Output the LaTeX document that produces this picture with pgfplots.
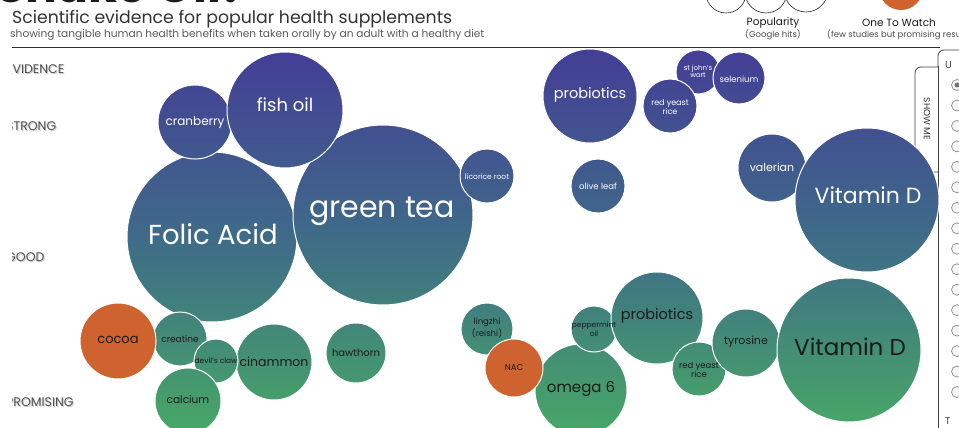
\documentclass[border=0pt]{standalone}
\usepackage{pgfplots}
\pgfplotsset{compat=1.18}
\usepackage{pgfplotstable}
\usepackage{fontspec}
\setmainfont{Poppins}
\definecolor{cTop}{RGB}{68,62,150}
\definecolor{cMid}{RGB}{62,110,135}
\definecolor{cBot}{RGB}{72,168,102}
\definecolor{cOrange}{RGB}{207,99,48}
\definecolor{ink}{RGB}{26,26,26}
\pgfdeclareplotmark{nomark}{}
\newcommand\gradcol[2]{%
  \pgfmathsetmacro\gY{#2}%
  \ifdim\gY pt<250pt
    \pgfmathtruncatemacro\gp{max(0,min(100,(\gY-50)/2))}%
    \colorlet{#1}{cMid!\gp!cTop}%
  \else
    \pgfmathtruncatemacro\gp{max(0,min(100,(\gY-250)/1.8))}%
    \colorlet{#1}{cBot!\gp!cMid}%
  \fi}
% bubbles: centre x, centre y (pixel row), radius
\pgfplotstableread{
x y r
212 237 85
383 215 90
195 122 37
285 110 58
487 176 27
590 96 47
698 72 22
670 106 27
739 78 26
598 186 27
772 168 34
867 200 72
180 339 27
274 362 38
216 361 22
188 401 33
356 353 30
487 329 26
581 390 46
594 329 23
657 318 46
699 369 27
746 343 34
849 350 72
}\bubbles
% one to watch (orange)
\pgfplotstableread{
x y r
118 341 38
514 368 29
}\watch
% labels (w = 1 for white text, 0 for dark text)
\pgfplotstableread[col sep=comma]{
lx,ly,fs,w,label
213,234,27.5,1,Folic Acid
382,211,30,1,green tea
195,123,12,1,cranberry
285,105,18,1,fish oil
487,177,7.5,1,licorice root
590,95,14.5,1,probiotics
698,71,7,1,{st john's\\wort}
670,107,8,1,{red yeast\\rice}
739,79,8.5,1,selenium
598,186,8.5,1,olive leaf
772,167,11,1,valerian
868,195,22,1,Vitamin D
118,340,13,0,cocoa
180,339,9,0,creatine
274,362,12.5,0,cinammon
216,361,7.5,0,devil's claw
188,400,10.5,0,calcium
356,353,10,0,hawthorn
487,328,8.5,0,{lingzhi\\(reishi)}
581,389,15,0,omega 6
514,368,8.5,0,NAC
594,329,7.5,0,{peppermint\\oil}
657,316,14.5,0,probiotics
699,370,8.5,0,{red yeast\\rice}
746,342,11,0,tyrosine
850,347,23,0,Vitamin D
}\labels
\begin{document}
\begin{tikzpicture}
\begin{axis}[x=1pt, y=1pt, xmin=0, xmax=959, ymin=0, ymax=428,
  y dir=reverse, hide axis, clip=false]
\coordinate (BL) at (axis cs:0,428);
\coordinate (TR) at (axis cs:959,0);
% header
\node[anchor=base west, inner sep=0pt, font=\fontsize{47}{47}\selectfont\bfseries, text=ink] at (axis cs:-4,3) {Snake Oil?};
\node[anchor=west, inner sep=0pt, font=\fontsize{17.3}{17.3}\selectfont, text=black!80] at (axis cs:12,19) {Scientific evidence for popular health supplements};
\node[anchor=west, inner sep=0pt, font=\fontsize{10.6}{10.6}\selectfont, text=black!65] at (axis cs:10,34.5) {showing tangible human health benefits when taken orally by an adult with a healthy diet};
\draw[black!80, line width=1.2pt] (axis cs:12,47.5) -- (axis cs:940,47.5);
% legend
\draw[black!85, line width=0.6pt] (axis cs:726,-7) circle[radius=20pt];
\draw[black!85, line width=0.6pt] (axis cs:766,-8) circle[radius=21pt];
\draw[black!85, line width=0.6pt] (axis cs:806,-10) circle[radius=22pt];
\fill[cOrange] (axis cs:901,-12) circle[radius=22pt];
\node[font=\fontsize{10.5}{10.5}\selectfont, text=ink] at (axis cs:773,23) {Popularity};
\node[font=\fontsize{8.5}{8.5}\selectfont, text=black!70] at (axis cs:773,34.5) {(Google hits)};
\node[font=\fontsize{10.5}{10.5}\selectfont, text=ink] at (axis cs:899,23) {One To Watch};
\node[anchor=west, inner sep=0pt, font=\fontsize{8.5}{8.5}\selectfont, text=black!70] at (axis cs:827,34.5) {(few studies but promising results)};
% evidence labels
\node[anchor=west, inner sep=0pt, font=\fontsize{12.5}{12.5}\selectfont, text=black!22] at (axis cs:7,70.5) {EVIDENCE};
\node[anchor=west, inner sep=0pt, font=\fontsize{12.5}{12.5}\selectfont, text=black!68] at (axis cs:6,69) {EVIDENCE};
\node[anchor=west, inner sep=0pt, font=\fontsize{12.5}{12.5}\selectfont, text=black!22] at (axis cs:7,127.5) {STRONG};
\node[anchor=west, inner sep=0pt, font=\fontsize{12.5}{12.5}\selectfont, text=black!68] at (axis cs:6,126) {STRONG};
\node[anchor=west, inner sep=0pt, font=\fontsize{12.5}{12.5}\selectfont, text=black!22] at (axis cs:7,258.5) {GOOD};
\node[anchor=west, inner sep=0pt, font=\fontsize{12.5}{12.5}\selectfont, text=black!68] at (axis cs:6,257) {GOOD};
\node[anchor=west, inner sep=0pt, font=\fontsize{12.5}{12.5}\selectfont, text=black!22] at (axis cs:7,403.5) {PROMISING};
\node[anchor=west, inner sep=0pt, font=\fontsize{12.5}{12.5}\selectfont, text=black!68] at (axis cs:6,402) {PROMISING};
\fill[white] (axis cs:-2,55) rectangle (axis cs:11.5,430);
% gradient bubbles
\addplot[scatter, only marks, mark=nomark,
  visualization depends on={\thisrow{y} \as \Yc},
  visualization depends on={\thisrow{r} \as \rad},
  scatter/@pre marker code/.code={%
    \pgfmathsetmacro\Yt{\Yc-\rad}%
    \pgfmathsetmacro\Yb{\Yc+\rad}%
    \gradcol{ctop}{\Yt}\gradcol{cmidl}{\Yc}\gradcol{cbot}{\Yb}%
    \path[top color=ctop, bottom color=cbot, middle color=cmidl, draw=white, line width=1pt] (0,0) circle[radius=\rad pt];},
  scatter/@post marker code/.code={}]
  table[x=x, y=y] {\bubbles};
% orange bubbles
\addplot[scatter, only marks, mark=nomark,
  visualization depends on={\thisrow{r} \as \rad},
  scatter/@pre marker code/.code={%
    \path[fill=cOrange, draw=white, line width=1pt] (0,0) circle[radius=\rad pt];},
  scatter/@post marker code/.code={}]
  table[x=x, y=y] {\watch};
% labels
\addplot[scatter, only marks, mark=nomark,
  point meta=explicit symbolic,
  visualization depends on={\thisrow{fs} \as \fsz},
  visualization depends on={\thisrow{w} \as \wt},
  scatter/@pre marker code/.code={%
    \pgfmathtruncatemacro\wp{100*\wt}%
    \node[inner sep=0pt, align=center, text={white!\wp!ink}, font=\fontsize{\fsz}{\fsz}\selectfont] at (0,0) {\pgfplotspointmeta};},
  scatter/@post marker code/.code={}]
  table[x=lx, y=ly, meta=label] {\labels};
% right panel
\fill[white] (axis cs:938,50) rectangle (axis cs:962,430);
\draw[black!75, line width=0.8pt, rounded corners=6pt]
  (axis cs:962,50) -- (axis cs:938,50) -- (axis cs:938,67);
\draw[black!75, line width=0.8pt, fill=white, fill opacity=0.82, rounded corners=6pt]
  (axis cs:938,67) -- (axis cs:915,67) -- (axis cs:915,172) -- (axis cs:938,172);
\draw[black!75, line width=0.8pt] (axis cs:938,66) -- (axis cs:938,430);
\node[rotate=-90, font=\fontsize{9}{9}\selectfont, text=black!80] at (axis cs:927,119) {SHOW ME};
\node[anchor=west, inner sep=0pt, font=\fontsize{10}{10}\selectfont, text=black!75] at (axis cs:945,65) {U};
\node[anchor=west, inner sep=0pt, font=\fontsize{10}{10}\selectfont, text=black!75] at (axis cs:945,421) {T};
\pgfplotsinvokeforeach{0,1,2,3,4,5,6,7,8,9,10,11,12,13,14,15}{
  \draw[black!45, fill=black!4, line width=0.7pt] (axis cs:957,{85+20.47*#1}) circle[radius=5.5pt];
}
\fill[black!55] (axis cs:957,85) circle[radius=2.5pt];
\end{axis}
\pgfresetboundingbox
\useasboundingbox (BL) rectangle (TR);
\end{tikzpicture}
\end{document}
